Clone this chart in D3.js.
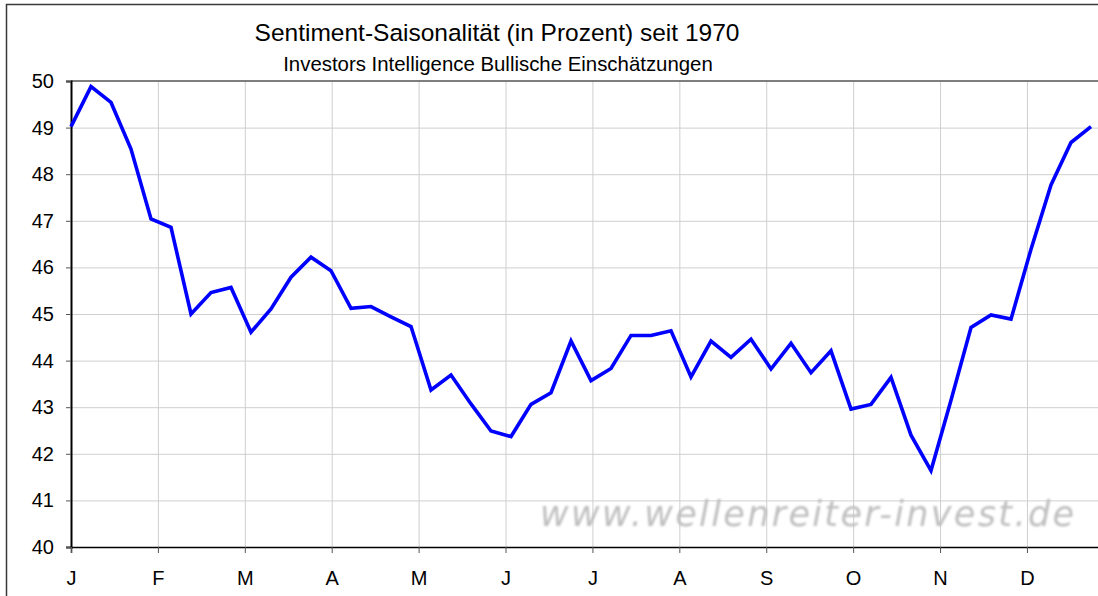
<!DOCTYPE html>
<html>
<head>
<meta charset="utf-8">
<script src="https://d3js.org/d3.v7.min.js"></script>
<style>
    body {
        margin: 0;
        background: #fff;
    }
    svg text {
        font-family: "Liberation Sans", Arial, sans-serif;
        fill: #000;
    }
    .axis path, .axis line {
        stroke: #000;
    }
    .grid line {
        stroke: #cfcfcf;
        stroke-width: 1;
    }
    .grid path {
        display: none;
    }
</style>
</head>
<body>
<script>

    // weekly values, first week of January to last week of December
    var weeklySentiment = [
        49.02, 49.88, 49.54, 48.54, 47.04, 46.86, 45.00, 45.46, 45.57, 44.61,
        45.11, 45.79, 46.22, 45.93, 45.12, 45.16, 44.94, 44.73, 43.37, 43.69,
        43.07, 42.49, 42.37, 43.06, 43.31, 44.42, 43.57, 43.83, 44.54, 44.54,
        44.64, 43.65, 44.42, 44.07, 44.46, 43.82, 44.37, 43.74, 44.21, 42.96,
        43.06, 43.64, 42.40, 41.64, 43.15, 44.71, 44.98, 44.89, 46.39, 47.77,
        48.68, 49.02
    ];

    var monthLabels = ["J", "F", "M", "A", "M", "J", "J", "A", "S", "O", "N", "D"];
    var yTicks = [40, 41, 42, 43, 44, 45, 46, 47, 48, 49, 50];

    var titleText = "Sentiment-Saisonalität (in Prozent) seit 1970";
    var subtitleText = "Investors Intelligence Bullische Einschätzungen";
    var watermarkText = "www.wellenreiter-invest.de";

    var width = 1098, height = 596;
    var plot = { left: 71, top: 81, bottom: 547 };
    var pxPerDay = 20 / 7;

    var svg = d3.select("body").append("svg")
        .attr("width", width)
        .attr("height", height);

    var defs = svg.append("defs");
    defs.append("filter")
        .attr("id", "soft")
        .append("feGaussianBlur")
        .attr("stdDeviation", 0.9);

    // outer chart frame (cut off at right and bottom)
    svg.append("rect")
        .attr("x", 6.5)
        .attr("y", 4.5)
        .attr("width", 1300)
        .attr("height", 800)
        .style("fill", "#fff")
        .style("stroke", "#3a3a3a")
        .style("stroke-width", 1.5);

    var xScale = d3.scaleLinear()
        .domain([0, 365])
        .range([plot.left, plot.left + 365 * pxPerDay]);

    var yScale = d3.scaleLinear()
        .domain([40, 50])
        .range([plot.bottom, plot.top]);

    var monthPos = monthLabels.map(function (d, i) { return i * 365 / 12; });

    // grid
    svg.append("g")
        .attr("class", "grid")
        .attr("transform", "translate(" + plot.left + ",0)")
        .call(d3.axisLeft(yScale).tickValues(yTicks.slice(1, -1))
            .tickSize(-(width - plot.left)).tickFormat(""));

    svg.append("g")
        .attr("class", "grid")
        .attr("transform", "translate(0," + plot.bottom + ")")
        .call(d3.axisBottom(xScale).tickValues(monthPos.slice(1))
            .tickSize(-(plot.bottom - plot.top)).tickFormat(""));

    // top border of plot area
    svg.append("line")
        .attr("x1", plot.left)
        .attr("x2", width)
        .attr("y1", yScale(50))
        .attr("y2", yScale(50))
        .style("stroke", "#555")
        .style("stroke-width", 1.5);

    // watermark
    svg.append("text")
        .attr("x", 540)
        .attr("y", 526)
        .attr("textLength", 534)
        .attr("lengthAdjust", "spacing")
        .attr("filter", "url(#soft)")
        .style("font-family", "'DejaVu Sans', Verdana, sans-serif")
        .style("font-style", "italic")
        .style("font-size", "35px")
        .style("fill", "#bfbfbf")
        .text(watermarkText);

    // axes
    var yAxis = d3.axisLeft(yScale)
        .tickValues(yTicks)
        .tickSize(5)
        .tickPadding(12)
        .tickFormat(d3.format("d"));

    var gy = svg.append("g")
        .attr("class", "axis")
        .attr("transform", "translate(" + plot.left + ",0)")
        .call(yAxis);
    gy.select(".domain").style("stroke-width", 2);
    gy.selectAll("line").style("stroke", "#555");
    gy.selectAll("text").style("font-size", "20px");

    var xAxis = d3.axisBottom(xScale)
        .tickValues(monthPos)
        .tickSize(6)
        .tickPadding(18)
        .tickFormat(function (d, i) { return monthLabels[i]; });

    var gx = svg.append("g")
        .attr("class", "axis")
        .attr("transform", "translate(0," + plot.bottom + ")")
        .call(xAxis);
    gx.select(".domain").style("stroke-width", 1.5);
    gx.selectAll("line").style("stroke", "#555");
    gx.selectAll("text").style("font-size", "20px");

    // the series
    var line = d3.line()
        .x(function (d, i) { return xScale(i * 7); })
        .y(function (d) { return yScale(d); });

    svg.append("path")
        .datum(weeklySentiment)
        .attr("d", line)
        .style("fill", "none")
        .style("stroke", "#0000ff")
        .style("stroke-width", 3.6)
        .style("stroke-linejoin", "miter");

    // titles
    svg.append("text")
        .attr("x", 497)
        .attr("y", 41)
        .attr("text-anchor", "middle")
        .style("font-size", "24.5px")
        .text(titleText);

    svg.append("text")
        .attr("x", 498)
        .attr("y", 71)
        .attr("text-anchor", "middle")
        .style("font-size", "20.4px")
        .text(subtitleText);

</script>
</body>
</html>
